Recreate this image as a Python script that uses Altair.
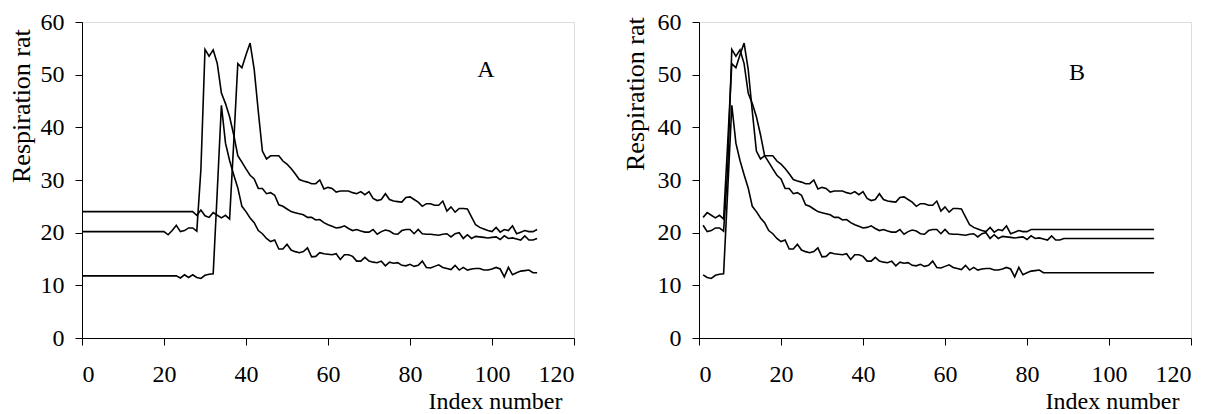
import altair as alt
import pandas as pd

# ---------------- data ----------------
idx_a = list(range(0, 112))
idx_b = list(range(1, 112))

a_top = [24.0, 24.0, 24.0, 24.0, 24.0, 24.0, 24.0, 24.0, 24.0, 24.0, 24.0, 24.0, 24.0, 24.0,
         24.0, 24.0, 24.0, 24.0, 24.0, 24.0, 24.0, 24.0, 24.0, 24.0, 24.0, 24.0, 24.0, 24.0,
         23.3, 24.3, 23.2, 22.9, 23.8, 23.3, 22.8, 23.3, 22.6,
         37.0, 52.1, 51.3, 53.8, 56.0, 51.0, 43.0, 35.5, 34.0, 34.6, 34.6, 34.6,
         33.6, 33.0, 32.2, 31.2, 30.1, 29.8, 29.6, 29.3, 29.3, 30.0, 28.3, 28.6,
         28.4, 27.7, 27.9, 27.9, 27.9, 27.6, 27.4, 27.8, 27.2, 27.8, 26.5, 26.1,
         26.3, 27.4, 26.3, 26.0, 25.9, 25.8, 26.7, 26.8, 26.3, 25.8, 25.0, 25.5,
         25.5, 25.2, 25.2, 26.0, 24.1, 24.9, 23.9, 24.6, 24.6, 24.5, 23.0, 21.5,
         21.0, 20.7, 20.4, 20.2, 21.0, 20.1, 20.6, 20.4, 21.3, 19.8, 20.1, 20.4,
         20.2, 20.2, 20.6]

a_mid = [20.2, 20.2, 20.2, 20.2, 20.2, 20.2, 20.2, 20.2, 20.2, 20.2, 20.2, 20.2, 20.2, 20.2,
         20.2, 20.2, 20.2, 20.2, 20.2, 20.2, 20.2,
         19.6, 20.4, 21.4, 20.2, 20.4, 20.9, 20.9, 20.3,
         32.0, 54.8, 53.5, 54.7, 52.1, 46.5, 44.5, 42.0, 38.6, 34.6, 33.4, 32.1,
         30.9, 30.2, 28.4, 28.4, 27.4, 27.6, 27.1, 25.3, 25.0, 24.5, 24.0, 23.8,
         23.6, 23.4, 22.9, 22.9, 22.4, 22.5, 21.9, 21.5, 21.2, 20.9, 21.0, 21.3,
         20.8, 20.4, 20.6, 20.3, 20.1, 20.1, 20.6, 19.7, 20.2, 20.5, 20.3, 19.8,
         19.7, 20.4, 20.6, 20.6, 19.8, 20.6, 19.8, 19.7, 19.7, 19.6, 19.5, 19.7,
         19.8, 19.2, 19.8, 20.0, 18.9, 19.6, 18.9, 19.3, 19.2, 19.1, 19.0, 19.1,
         19.2, 18.7, 19.4, 18.9, 19.0, 18.8, 18.6, 19.4, 18.6, 18.6, 18.9]

a_low = [11.8, 11.8, 11.8, 11.8, 11.8, 11.8, 11.8, 11.8, 11.8, 11.8, 11.8, 11.8, 11.8, 11.8,
         11.8, 11.8, 11.8, 11.8, 11.8, 11.8, 11.8, 11.8, 11.8, 11.8,
         11.4, 12.0, 11.5, 12.0, 11.5, 11.3, 11.9, 12.1, 12.2,
         28.0, 44.2, 37.0, 33.7, 31.0, 28.5, 25.0, 24.0, 22.8, 21.9, 20.4, 19.8,
         18.9, 18.3, 18.6, 16.9, 16.9, 17.8, 16.7, 16.4, 16.2, 16.4, 17.1, 15.4,
         15.5, 16.2, 16.0, 15.9, 15.8, 16.0, 14.9, 15.8, 15.8, 15.5, 14.6, 14.6,
         15.3, 14.6, 14.4, 14.3, 14.6, 13.7, 14.4, 14.2, 14.3, 13.8, 13.7, 14.0,
         13.6, 13.8, 14.6, 13.4, 13.3, 13.6, 13.9, 13.4, 13.2, 13.0, 13.8, 12.9,
         13.4, 12.9, 13.1, 13.2, 13.2, 12.9, 12.9, 13.1, 13.4, 13.1, 11.6, 13.4,
         12.0, 12.4, 12.7, 12.8, 12.9, 12.4, 12.4]

b_top = [22.9, 23.8, 23.3, 22.8, 23.3, 22.6,
         37.0, 52.1, 51.3, 53.8, 56.0, 51.0, 43.0, 35.5, 34.0, 34.6, 34.6, 34.6,
         33.6, 33.0, 32.2, 31.2, 30.1, 29.8, 29.6, 29.3, 29.3, 30.0, 28.3, 28.6,
         28.4, 27.7, 27.9, 27.9, 27.9, 27.6, 27.4, 27.8, 27.2, 27.8, 26.5, 26.1,
         26.3, 27.4, 26.3, 26.0, 25.9, 25.8, 26.7, 26.8, 26.3, 25.8, 25.0, 25.5,
         25.5, 25.2, 25.2, 26.0, 24.1, 24.9, 23.9, 24.6, 24.6, 24.5, 23.0, 21.5,
         21.0, 20.7, 20.4, 20.2, 21.0, 20.1, 20.6, 20.4, 21.3, 19.8, 20.1, 20.4,
         20.2, 20.2, 20.6,
         20.6, 20.6, 20.6, 20.6, 20.6, 20.6, 20.6, 20.6, 20.6, 20.6, 20.6, 20.6, 20.6, 20.6, 20.6,
         20.6, 20.6, 20.6, 20.6, 20.6, 20.6, 20.6, 20.6, 20.6, 20.6, 20.6, 20.6, 20.6, 20.6, 20.6]

b_mid = [21.4, 20.2, 20.4, 20.9, 20.9, 20.3,
         32.0, 54.8, 53.5, 54.7, 52.1, 46.5, 44.5, 42.0, 38.6, 34.6, 33.4, 32.1,
         30.9, 30.2, 28.4, 28.4, 27.4, 27.6, 27.1, 25.3, 25.0, 24.5, 24.0, 23.8,
         23.6, 23.4, 22.9, 22.9, 22.4, 22.5, 21.9, 21.5, 21.2, 20.9, 21.0, 21.3,
         20.8, 20.4, 20.6, 20.3, 20.1, 20.1, 20.6, 19.7, 20.2, 20.5, 20.3, 19.8,
         19.7, 20.4, 20.6, 20.6, 19.8, 20.6, 19.8, 19.7, 19.7, 19.6, 19.5, 19.7,
         19.8, 19.2, 19.8, 20.0, 18.9, 19.6, 18.9, 19.3, 19.2, 19.1, 19.0, 19.1,
         19.2, 18.7, 19.4, 18.9, 19.0, 18.8, 18.6, 19.4, 18.6, 18.6, 18.9,
         18.9, 18.9, 18.9, 18.9, 18.9, 18.9, 18.9, 18.9, 18.9, 18.9, 18.9,
         18.9, 18.9, 18.9, 18.9, 18.9, 18.9, 18.9, 18.9, 18.9, 18.9, 18.9]

b_low = [12.0, 11.5, 11.3, 11.9, 12.1, 12.2,
         28.0, 44.2, 37.0, 33.7, 31.0, 28.5, 25.0, 24.0, 22.8, 21.9, 20.4, 19.8,
         18.9, 18.3, 18.6, 16.9, 16.9, 17.8, 16.7, 16.4, 16.2, 16.4, 17.1, 15.4,
         15.5, 16.2, 16.0, 15.9, 15.8, 16.0, 14.9, 15.8, 15.8, 15.5, 14.6, 14.6,
         15.3, 14.6, 14.4, 14.3, 14.6, 13.7, 14.4, 14.2, 14.3, 13.8, 13.7, 14.0,
         13.6, 13.8, 14.6, 13.4, 13.3, 13.6, 13.9, 13.4, 13.2, 13.0, 13.8, 12.9,
         13.4, 12.9, 13.1, 13.2, 13.2, 12.9, 12.9, 13.1, 13.4, 13.1, 11.6, 13.4,
         12.0, 12.4, 12.7, 12.8, 12.9, 12.4, 12.4,
         12.4, 12.4, 12.4, 12.4, 12.4, 12.4, 12.4, 12.4, 12.4, 12.4, 12.4, 12.4, 12.4,
         12.4, 12.4, 12.4, 12.4, 12.4, 12.4, 12.4, 12.4, 12.4, 12.4, 12.4, 12.4, 12.4]

x_ticks = [0, 20, 40, 60, 80, 100, 120]
y_ticks = [0, 10, 20, 30, 40, 50, 60]
panel_labels = ["A", "B"]
label_x = [98.5, 92.2]
label_y = [50.9, 50.3]
y_title = "Respiration rate"
x_title = "Index number"

FONT = "Liberation Serif"
W, H = 492, 316


def long_df(idx, series):
    rows = []
    for name, vals in series.items():
        for i, v in zip(idx, vals):
            rows.append({"idx": i, "val": v, "series": name})
    return pd.DataFrame(rows)


def panel(df, k, title_dx, title_start):
    xax = alt.Axis(values=x_ticks, title=x_title, grid=False,
                   domainColor="black", tickColor="black", tickSize=7,
                   labelFont=FONT, labelFontSize=24, labelColor="black", labelPadding=17,
                   titleFont=FONT, titleFontSize=24, titleColor="black", titleFontWeight="normal",
                   titleAnchor="end", titleAlign="right", titleBaseline="alphabetic",
                   titleX=W - 12, titleY=70)
    yax = alt.Axis(values=y_ticks, title=None, grid=False,
                   domainColor="black", tickColor="black", tickSize=7,
                   labelFont=FONT, labelFontSize=24, labelColor="black", labelPadding=11)
    lines = alt.Chart(df).mark_line(color="black", strokeWidth=1.6).encode(
        x=alt.X("idx:Q", scale=alt.Scale(domain=[0, 120], nice=False), axis=xax),
        y=alt.Y("val:Q", scale=alt.Scale(domain=[0, 60], nice=False), axis=yax),
        detail="series:N",
    )
    lab_df = pd.DataFrame({"x": [label_x[k]], "y": [label_y[k]], "t": [panel_labels[k]]})
    lab = alt.Chart(lab_df).mark_text(font=FONT, fontSize=24, color="black",
                                      align="center", baseline="middle").encode(
        x="x:Q", y="y:Q", text="t:N")
    # y-axis title, cut short as in the original figure
    ttl = alt.Chart(pd.DataFrame({"t": [y_title]})).mark_text(
        font=FONT, fontSize=26, color="black", angle=270, align="left",
        baseline="alphabetic", limit=161, ellipsis=" ").encode(
        x=alt.value(title_dx), y=alt.value(title_start), text="t:N")
    return alt.layer(lines, lab, ttl).properties(width=W, height=H)


df_a = long_df(idx_a, {"top": a_top, "mid": a_mid, "low": a_low})
df_b = long_df(idx_b, {"top": b_top, "mid": b_mid, "low": b_low})

chart = alt.hconcat(
    panel(df_a, 0, -52, 161),
    panel(df_b, 1, -55, 149),
    spacing=125, bounds="flush",
).properties(
    padding={"left": 0, "top": 1, "right": 5, "bottom": 0},
).configure_view(stroke=None).configure(background="white")

chart.save("out.html", embed_options={"renderer": "svg", "actions": False})
